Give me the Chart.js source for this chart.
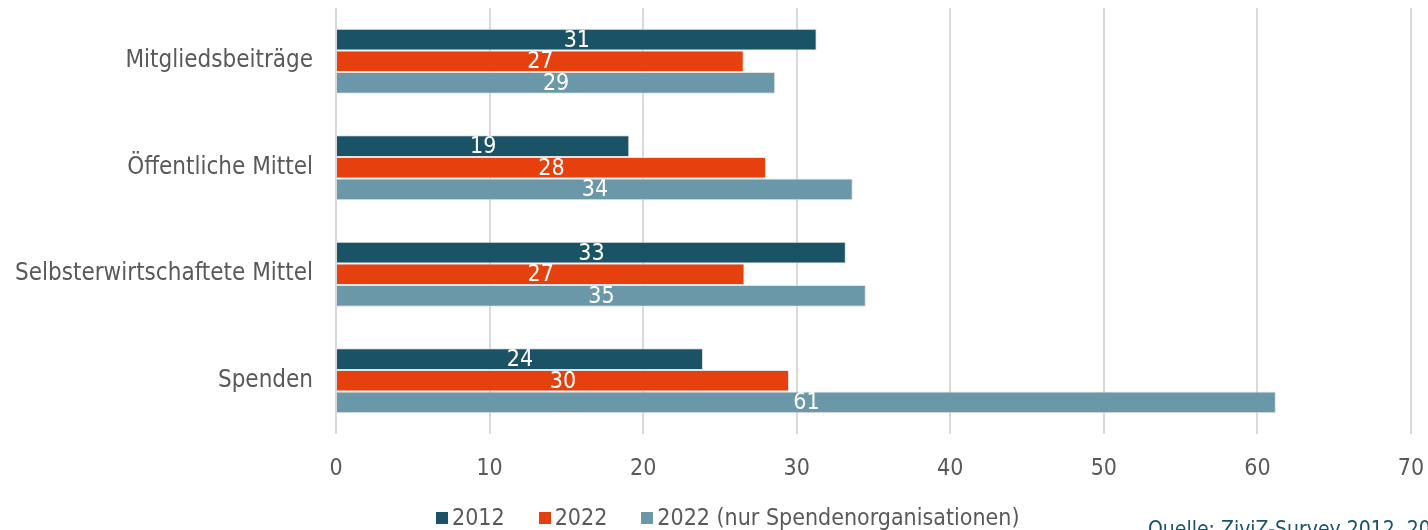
<!DOCTYPE html>
<html lang="de">
<head>
<meta charset="UTF-8">
<title>Finanzierungsquellen</title>
<script src="https://cdn.jsdelivr.net/npm/chart.js"></script>
<style>
    body {
        margin: 0;
        background: #fff;
        font-family: "DejaVu Sans Condensed", "DejaVu Sans", sans-serif;
    }
    .wrap {
        position: relative;
        width: 1428px;
        height: 530px;
        overflow: hidden;
    }
    canvas { display: block; }
    .legende {
        position: absolute;
        left: 436px;
        top: 503px;
        font-size: 23px;
        color: #595959;
        white-space: nowrap;
        line-height: 28px;
    }
    .legende span.eintrag { margin-right: 34px; }
    .legende span.box {
        display: inline-block;
        width: 12px;
        height: 12px;
        margin-right: 4px;
        vertical-align: 1px;
    }
    .quelle {
        position: absolute;
        left: 1148px;
        top: 517px;
        font-size: 21px;
        color: #1b5366;
        white-space: nowrap;
    }
</style>
</head>
<body>
<div class="wrap">
    <canvas id="chart" width="1428" height="530"></canvas>
    <div class="legende" id="legende"></div>
    <div class="quelle">Quelle: ZiviZ-Survey 2012, 2022</div>
</div>
<script>
// Daten
const kategorien = ['Mitgliedsbeiträge', 'Öffentliche Mittel', 'Selbsterwirtschaftete Mittel', 'Spenden'];
const werte2012 = [31.3, 19.1, 33.2, 23.9];
const werte2022 = [26.55, 28.0, 26.6, 29.5];
const werte2022Spenden = [28.6, 33.65, 34.5, 61.2];
const serienNamen = ['2012', '2022', '2022 (nur Spendenorganisationen)'];
const farben = ['#1b5366', '#e5400d', '#6a98a8'];
const xTicks = [0, 10, 20, 30, 40, 50, 60, 70];

const schrift = '"DejaVu Sans Condensed", "DejaVu Sans", sans-serif';

// Werte mittig in die Balken schreiben
const wertLabels = {
    id: 'wertLabels',
    afterDatasetsDraw(chart) {
        const ctx = chart.ctx;
        ctx.save();
        ctx.fillStyle = '#ffffff';
        ctx.font = '23px ' + schrift;
        ctx.textAlign = 'center';
        ctx.textBaseline = 'middle';
        chart.data.datasets.forEach((ds, i) => {
            chart.getDatasetMeta(i).data.forEach((bar, j) => {
                const mitte = (bar.x + bar.base) / 2;
                ctx.fillText(Math.round(ds.data[j]), mitte, bar.y + 1);
            });
        });
        ctx.restore();
    }
};

const datasets = [werte2012, werte2022, werte2022Spenden].map((d, i) => ({
    label: serienNamen[i],
    data: d,
    backgroundColor: farben[i],
    borderColor: 'rgba(220,220,220,0.8)',
    borderWidth: 1,
    barPercentage: 1.0,
    categoryPercentage: 0.61
}));

new Chart(document.getElementById('chart'), {
    type: 'bar',
    data: { labels: kategorien, datasets: datasets },
    options: {
        indexAxis: 'y',
        responsive: false,
        animation: false,
        layout: { padding: { top: 8, right: 17, left: 0, bottom: 48 } },
        plugins: {
            tooltip: { enabled: false },
            legend: { display: false }
        },
        scales: {
            x: {
                min: 0,
                max: 70,
                afterBuildTicks: (axis) => { axis.ticks = xTicks.map(v => ({ value: v })); },
                afterFit: (axis) => {
                    axis.height = 48;
                    axis.paddingLeft = 0;
                    axis.paddingRight = 0;
                },
                grid: { color: '#d9d9d9', lineWidth: 2, drawTicks: false },
                border: { display: false },
                ticks: {
                    font: { size: 23, family: schrift },
                    color: '#595959',
                    padding: 21
                }
            },
            y: {
                afterFit: (axis) => {
                    axis.width = 336;
                    axis.paddingTop = 0;
                    axis.paddingBottom = 0;
                },
                grid: { display: false, drawTicks: false },
                border: { display: false },
                ticks: {
                    font: { size: 24, family: schrift },
                    color: '#595959',
                    padding: 23
                }
            }
        }
    },
    plugins: [wertLabels]
});

// Legende unten
const legende = document.getElementById('legende');
serienNamen.forEach((name, i) => {
    const eintrag = document.createElement('span');
    eintrag.className = 'eintrag';
    const box = document.createElement('span');
    box.className = 'box';
    box.style.background = farben[i];
    eintrag.appendChild(box);
    eintrag.appendChild(document.createTextNode(name));
    legende.appendChild(eintrag);
});
</script>
</body>
</html>
